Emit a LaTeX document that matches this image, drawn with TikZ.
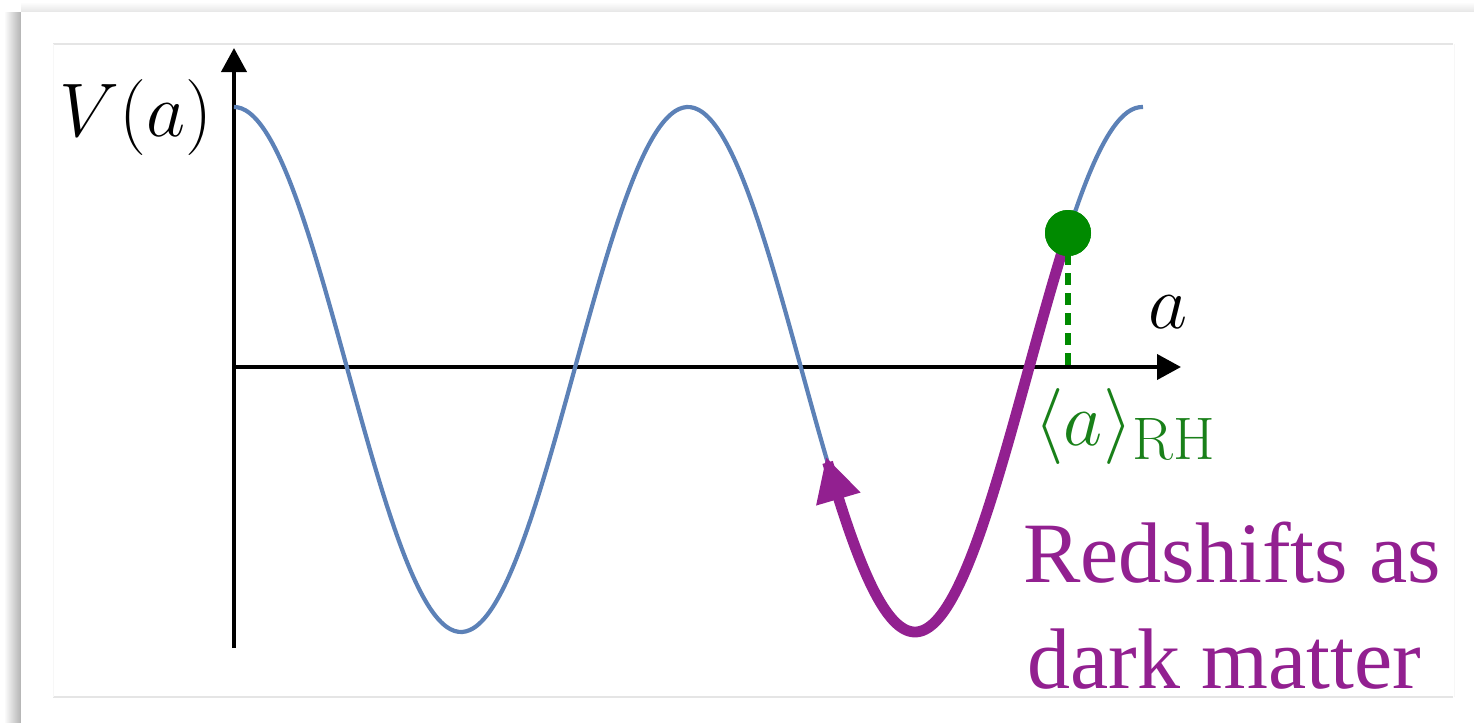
\RequirePackage{fix-cm}
\documentclass[tikz,border=0pt]{standalone}
\usepackage{amsmath}
\usepackage{fontspec}
\newfontfamily\pfont{Liberation Serif}
\usetikzlibrary{arrows.meta}
\definecolor{curveblue}{RGB}{92,129,183}
\definecolor{purp}{RGB}{146,32,144}
\definecolor{dotgreen}{RGB}{0,138,0}
\definecolor{lblgreen}{RGB}{25,128,25}
\tikzset{
  axis/.style={line width=2pt,-{Triangle[length=12pt,width=12.5pt]}},
  potential/.style={curveblue,line width=2.1pt},
  roll/.style={purp,line width=5.4pt,-{Triangle[length=22pt,width=21.5pt]}},
  lbl/.style={inner sep=0pt,font=\fontsize{38}{42}\selectfont},
  ptext/.style={inner sep=0pt,text=purp,font=\pfont\fontsize{43}{48}\selectfont},
}
\begin{document}
\begin{tikzpicture}[x=0.5pt,y=-0.5pt]
\useasboundingbox (0,0) rectangle (1474,723);
% card shadow
\shade[left color=white,right color=black!30] (4,12) rectangle (21,723);
\shade[top color=white,bottom color=black!10] (21,2) rectangle (1474,12);
\fill[white] (21,12) rectangle (1474,723);
% slide frame lines
\draw[black!10,line width=0.6pt] (53,44) -- (1453,44);
\draw[black!10,line width=0.6pt] (53,697) -- (1453,697);
\draw[black!3,line width=0.5pt] (53,44) -- (53,697);
\draw[black!3,line width=0.5pt] (1454,44) -- (1454,697);
% axes
\coordinate (O) at (234,367);
\coordinate (ybot) at (234,648);
\coordinate (ytop) at (234,48);
\coordinate (xend) at (1181,367);
\draw[axis] (ybot) -- (ytop);
\draw[axis] (O) -- (xend);
% potential
\draw[potential] plot[domain=234:1143,samples=240,smooth] (\x,{369.5-262.5*cos(0.792952*(\x-234))});
% rolling path
\draw[roll,line cap=round] plot[domain=1066:826,samples=120,smooth] (\x,{369.5-262.5*cos(0.792952*(\x-234))});
% misalignment point
\node[circle,fill=dotgreen,minimum size=23pt,inner sep=0pt] (dot) at (1068,233) {};
\coordinate (dotfoot) at (1068,367);
\draw[dotgreen,line width=2.6pt,dash pattern=on 6pt off 4pt] (dot.center) -- (dotfoot);
\node[circle,fill=dotgreen,minimum size=23pt,inner sep=0pt] at (dot) {};
% labels
\node[lbl,anchor=east] (Vlab) at (213,117) {$V(a)$};
\node[lbl] (alab) at (1168,312) {$a$};
\node[lbl,text=lblgreen,anchor=west] (avg) at (1034,426) {$\langle a\rangle_{\mbox{\fontsize{30}{30}\selectfont RH}}$};
\node[ptext,anchor=base west] (t1) at (1023,582) {Redshifts as};
\node[ptext,anchor=base west] (t2) at (1027,688) {dark matter};
\end{tikzpicture}
\end{document}
